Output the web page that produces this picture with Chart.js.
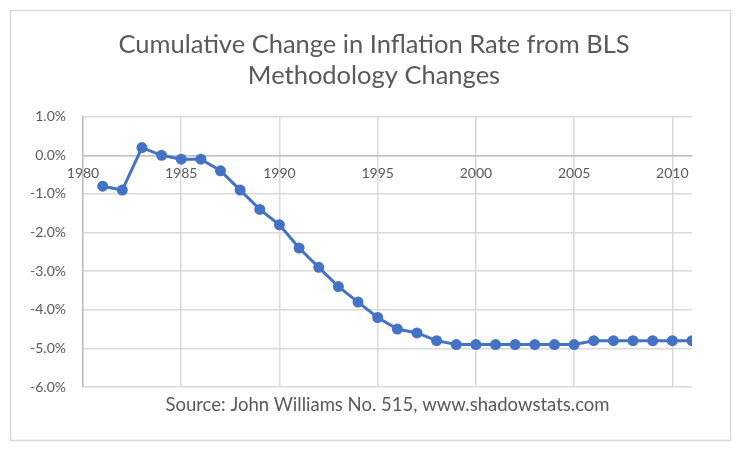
<!DOCTYPE html>
<html>
<head>
<meta charset="utf-8">
<script src="https://cdn.jsdelivr.net/npm/chart.js@4"></script>
<style>
html,body{margin:0;padding:0;background:#fff;}
#wrap{width:740px;height:452px;position:relative;}
</style>
</head>
<body>
<div id="wrap"><canvas id="c" width="740" height="452"></canvas></div>
<script>
const years = [1981,1982,1983,1984,1985,1986,1987,1988,1989,1990,1991,1992,1993,1994,1995,1996,1997,1998,1999,2000,2001,2002,2003,2004,2005,2006,2007,2008,2009,2010,2011];
const cumulativeChange = [-0.8,-0.9,0.2,0.0,-0.1,-0.1,-0.4,-0.9,-1.4,-1.8,-2.4,-2.9,-3.4,-3.8,-4.2,-4.5,-4.6,-4.8,-4.9,-4.9,-4.9,-4.9,-4.9,-4.9,-4.9,-4.8,-4.8,-4.8,-4.8,-4.8,-4.8];
const titleLines = ['Cumulative Change in Inflation Rate from BLS','Methodology Changes'];
const sourceText = 'Source: John Williams No. 515, www.shadowstats.com';

const FONT = 'Lato';
const TXT = '#595959';

const frame = {
  id: 'frame',
  beforeDraw(chart) {
    const ctx = chart.ctx;
    ctx.save();
    ctx.fillStyle = '#fff';
    ctx.fillRect(0,0,chart.width,chart.height);
    ctx.strokeStyle = '#d9d9d9';
    ctx.lineWidth = 1.5;
    ctx.strokeRect(10.5,10.5,720,430);
    ctx.restore();
  },
  afterDraw(chart) {
    const ctx = chart.ctx, a = chart.chartArea;
    ctx.save();
    ctx.fillStyle = TXT;
    ctx.font = '18.5px ' + FONT;
    ctx.textAlign = 'center';
    ctx.textBaseline = 'middle';
    ctx.fillText(sourceText, (a.left + a.right)/2, 405);
    ctx.restore();
  }
};

new Chart(document.getElementById('c'), {
  type: 'line',
  data: {
    datasets: [{
      data: years.map((y,i)=>({x:y, y:cumulativeChange[i]})),
      borderColor: '#4472C4',
      backgroundColor: '#4472C4',
      borderWidth: 3,
      pointRadius: 5.5,
      pointHoverRadius: 5.5,
      pointBorderWidth: 0,
      tension: 0
    }]
  },
  options: {
    responsive: false,
    animation: false,
    events: [],
    layout: { padding: { left: 8, right: 0, top: 0, bottom: 65 } },
    plugins: {
      legend: { display: false },
      tooltip: { enabled: false },
      title: {
        display: true,
        text: titleLines,
        color: TXT,
        font: { family: FONT, size: 25.5, weight: 'normal', lineHeight: 1.23 },
        padding: { top: 29, bottom: 25 }
      }
    },
    scales: {
      x: {
        type: 'linear',
        position: { y: 0 },
        min: 1980,
        max: 2011,
        grid: { color: '#d9d9d9', lineWidth: 1.5, drawTicks: false },
        border: { color: '#bfbfbf', width: 1.5 },
        ticks: {
          stepSize: 5,
          includeBounds: false,
          padding: 10,
          color: TXT,
          font: { family: FONT, size: 14 },
          maxRotation: 0,
          callback: v => String(v)
        }
      },
      y: {
        min: -6,
        max: 1,
        afterFit: s => { s.width = 75; },
        grid: { color: '#d9d9d9', lineWidth: 1.5, drawTicks: false },
        border: { color: '#bfbfbf', width: 1.5 },
        ticks: {
          stepSize: 1,
          padding: 17,
          color: TXT,
          font: { family: FONT, size: 14 },
          callback: v => v.toFixed(1) + '%'
        }
      },
      spacer: {
        type: 'linear',
        position: 'right',
        display: true,
        afterFit: s => { s.width = 48; },
        grid: { display: false },
        border: { display: false },
        ticks: { display: false }
      }
    }
  },
  plugins: [frame]
});
</script>
</body>
</html>
